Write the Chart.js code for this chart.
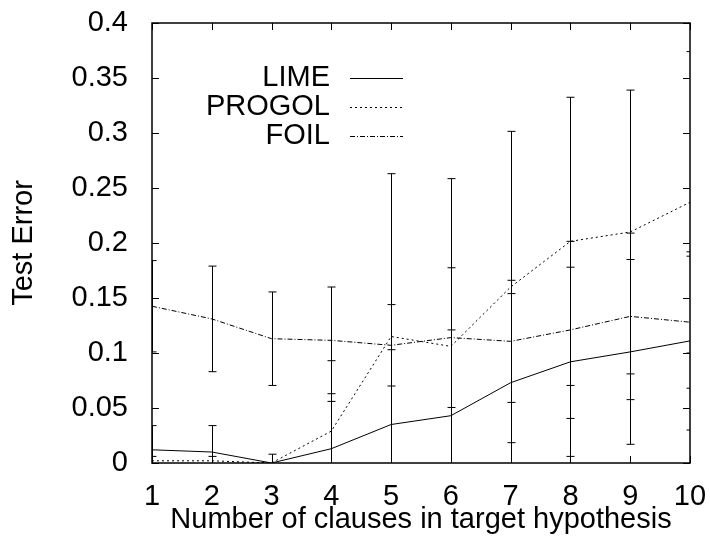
<!DOCTYPE html>
<html>
<head>
<meta charset="utf-8">
<script src="https://cdn.jsdelivr.net/npm/chart.js@4"></script>
<style>
  html, body { margin: 0; padding: 0; background: #fff; }
  canvas { display: block; }
</style>
</head>
<body>
<canvas id="chartCanvas" width="710" height="541"></canvas>
<script>
const clauses = [1, 2, 3, 4, 5, 6, 7, 8, 9, 10];

const limeMean = [0.012, 0.010, 0.000, 0.013, 0.035, 0.043, 0.073, 0.092, 0.101, 0.111];
const limeErr = [0.022, 0.024, 0.008, 0.043, 0.068, 0.078, 0.081, 0.086, 0.084, 0.081];

const progolMean = [0.002, 0.002, 0.000, 0.029, 0.115, 0.106, 0.160, 0.2015, 0.210, 0.237];
const progolErr = [0.004, 0.004, 0.000, 0.064, 0.148, 0.1525, 0.1415, 0.131, 0.129, 0.137];

const foilMean = [0.1425, 0.131, 0.113, 0.1115, 0.107, 0.114, 0.1106, 0.121, 0.1333, 0.128];
const foilErr = [0.0415, 0.048, 0.0425, 0.0485, 0.037, 0.0635, 0.0555, 0.0805, 0.0757, 0.060];

const seriesNames = ["LIME", "PROGOL", "FOIL"];
const xTitle = "Number of clauses in target hypothesis";
const yTitle = "Test Error";

const FONT = "'Liberation Sans', Arial, Helvetica, sans-serif";
const FSIZE = 29;

function points(means) {
    return clauses.map((c, i) => ({ x: c, y: means[i] }));
}

function makeSet(label, means, errs, dash) {
    return {
        label: label,
        data: points(means),
        errors: errs,
        borderColor: "#000",
        borderWidth: 1,
        borderDash: dash,
        pointRadius: 0,
        tension: 0,
        fill: false
    };
}

// frame, inward ticks, error bars and the legend inside the plot
const extras = {
    id: "extras",
    afterDatasetsDraw(chart) {
        const ctx = chart.ctx;
        const area = chart.chartArea;
        const xs = chart.scales.x;
        const ys = chart.scales.y;

        ctx.save();
        ctx.beginPath();
        ctx.rect(area.left, area.top - 1, area.right - area.left, area.bottom - area.top + 1);
        ctx.clip();
        ctx.strokeStyle = "#000";
        ctx.lineWidth = 1;
        ctx.setLineDash([]);
        chart.data.datasets.forEach(ds => {
            ds.data.forEach((p, i) => {
                const e = ds.errors[i];
                if (!e) return;
                const px = Math.round(xs.getPixelForValue(p.x)) + 0.5;
                const hi = p.y + e, lo = p.y - e;
                const yHi = ys.getPixelForValue(hi);
                const yLo = ys.getPixelForValue(Math.max(lo, 0));
                ctx.beginPath();
                ctx.moveTo(px, yHi);
                ctx.lineTo(px, yLo);
                ctx.moveTo(px - 4, yHi);
                ctx.lineTo(px + 4, yHi);
                if (lo >= 0) {
                    ctx.moveTo(px - 4, yLo);
                    ctx.lineTo(px + 4, yLo);
                }
                ctx.stroke();
            });
        });
        ctx.restore();

        ctx.save();
        ctx.strokeStyle = "#000";
        ctx.lineWidth = 1.5;
        ctx.strokeRect(area.left, area.top, area.right - area.left, area.bottom - area.top);
        ctx.lineWidth = 1;
        ctx.beginPath();
        ys.ticks.forEach(t => {
            const py = Math.round(ys.getPixelForValue(t.value)) + 0.5;
            ctx.moveTo(area.left, py);
            ctx.lineTo(area.left + 7, py);
            ctx.moveTo(area.right, py);
            ctx.lineTo(area.right - 7, py);
        });
        xs.ticks.forEach(t => {
            const px = Math.round(xs.getPixelForValue(t.value)) + 0.5;
            ctx.moveTo(px, area.bottom);
            ctx.lineTo(px, area.bottom - 7);
            ctx.moveTo(px, area.top);
            ctx.lineTo(px, area.top + 7);
        });
        ctx.stroke();

        ctx.font = FSIZE + "px " + FONT;
        ctx.fillStyle = "#000";
        ctx.textAlign = "right";
        ctx.textBaseline = "middle";
        chart.data.datasets.forEach((ds, i) => {
            const ly = 78 + i * 29;
            ctx.fillText(ds.label, 330, ly);
            ctx.beginPath();
            ctx.setLineDash(ds.borderDash);
            ctx.moveTo(350, ly + 0.5);
            ctx.lineTo(403, ly + 0.5);
            ctx.stroke();
        });
        ctx.restore();
    }
};

new Chart(document.getElementById("chartCanvas"), {
    type: "line",
    data: {
        datasets: [
            makeSet(seriesNames[0], limeMean, limeErr, []),
            makeSet(seriesNames[1], progolMean, progolErr, [2, 3]),
            makeSet(seriesNames[2], foilMean, foilErr, [5, 2, 1, 2])
        ]
    },
    options: {
        responsive: false,
        animation: false,
        layout: { padding: { top: 23, right: 20, left: 0, bottom: 0 } },
        plugins: {
            legend: { display: false },
            tooltip: { enabled: false }
        },
        scales: {
            x: {
                type: "linear",
                min: 1,
                max: 10,
                grid: { display: false },
                border: { display: false },
                ticks: {
                    stepSize: 1,
                    color: "#000",
                    padding: 9,
                    maxRotation: 0,
                    font: { family: FONT, size: FSIZE }
                },
                title: {
                    display: true,
                    text: xTitle,
                    color: "#000",
                    padding: { top: 0, bottom: 4 },
                    font: { family: FONT, size: FSIZE }
                },
                afterFit(scale) {
                    scale.height = 78;
                    scale.paddingLeft = 0;
                    scale.paddingRight = 0;
                }
            },
            y: {
                min: 0,
                max: 0.4,
                grid: { display: false },
                border: { display: false },
                ticks: {
                    stepSize: 0.05,
                    color: "#000",
                    padding: 16,
                    font: { family: FONT, size: FSIZE },
                    callback: v => String(+v.toFixed(2))
                },
                title: {
                    display: true,
                    text: yTitle,
                    color: "#000",
                    padding: { top: 7, bottom: 0 },
                    font: { family: FONT, size: FSIZE }
                },
                afterFit(scale) {
                    scale.width = 152;
                    scale.paddingTop = 0;
                    scale.paddingBottom = 0;
                }
            }
        }
    },
    plugins: [extras]
});
</script>
</body>
</html>
